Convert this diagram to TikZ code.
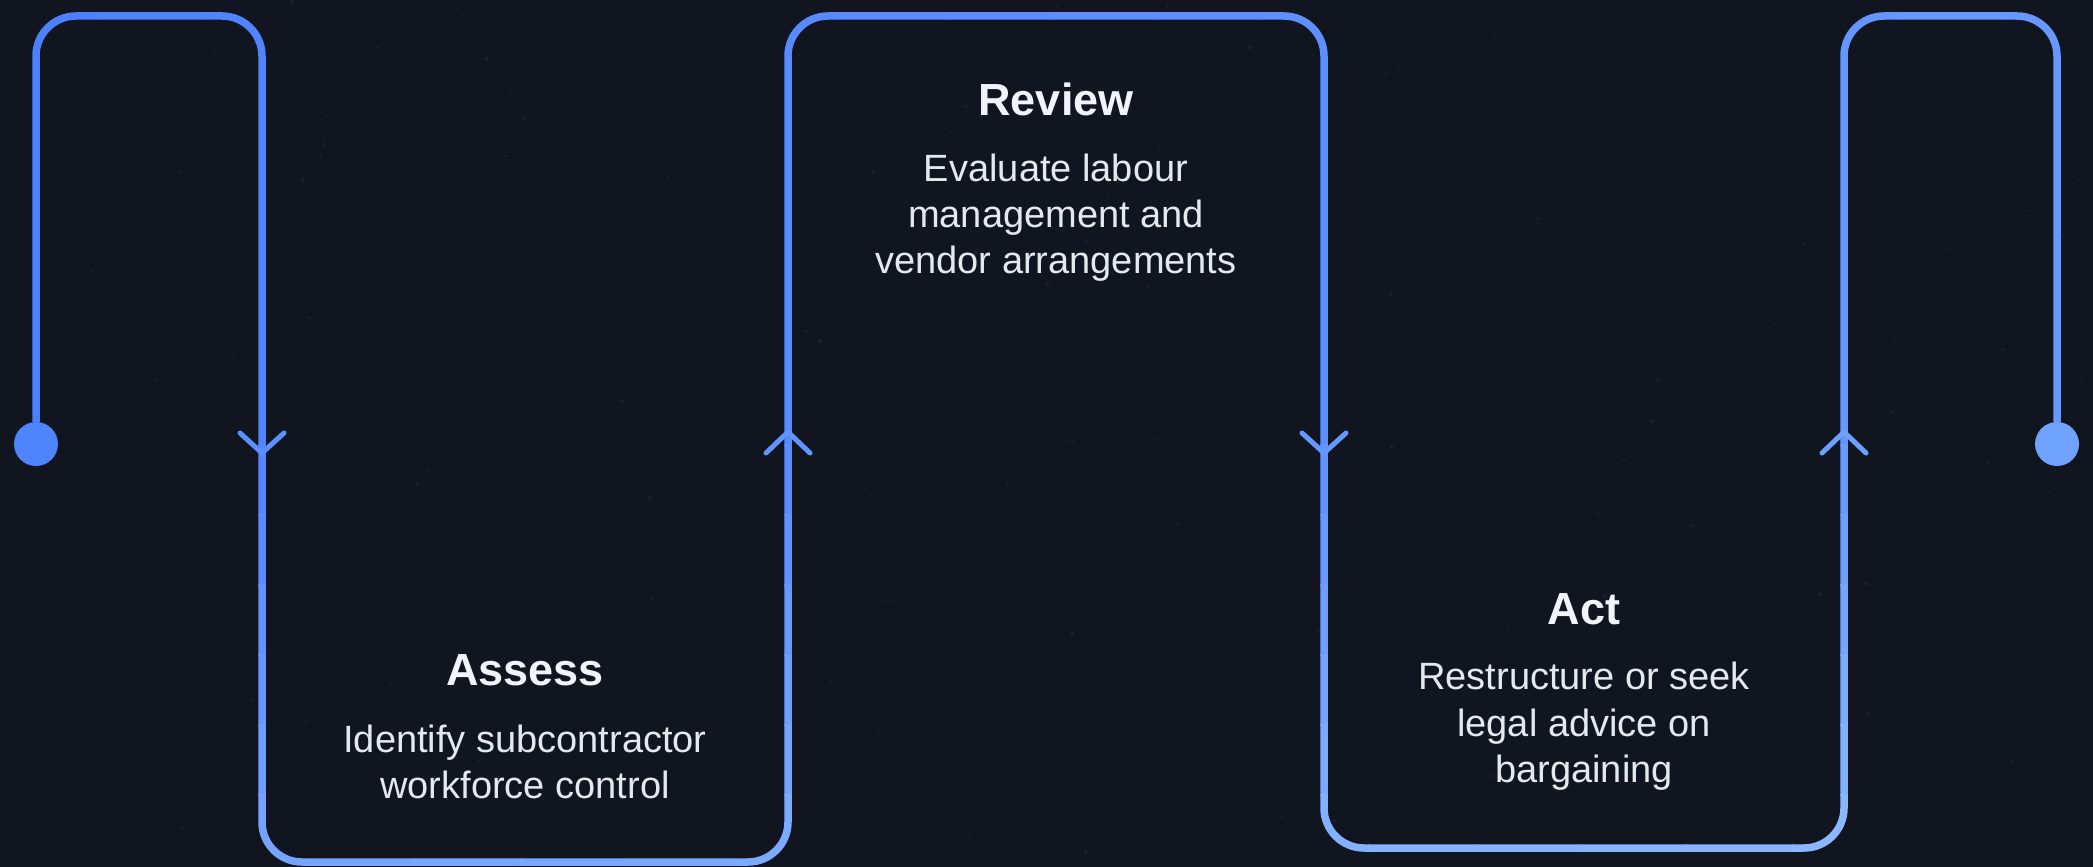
\documentclass[tikz,border=0pt]{standalone}
\usepackage{fontspec}
\setmainfont{Liberation Sans}
\definecolor{bgC}{HTML}{10151F}
\definecolor{titleC}{HTML}{F1F4FA}
\definecolor{bodyC}{HTML}{E4E8EF}
\definecolor{starC}{HTML}{1A2030}
\definecolor{dotLC}{HTML}{4F84FF}
\definecolor{dotRC}{HTML}{6FA3FF}
\definecolor{chevA}{HTML}{5A90FF}
\definecolor{chevB}{HTML}{6095FF}
\definecolor{chevC}{HTML}{6699FF}
\definecolor{chevD}{HTML}{6CA0FF}
\tikzset{
  flow/.style={line width=7.5pt, rounded corners=40pt, line join=round},
  chev/.style={line width=5pt, line cap=round, line join=round},
  endpt/.style={circle, minimum size=44pt, inner sep=0pt, draw=none},
  ttl/.style={font=\bfseries\fontsize{45}{54}\selectfont, text=titleC, anchor=base, inner sep=0pt},
  bdy/.style={font=\fontsize{38}{46}\selectfont, text=bodyC, anchor=base, inner sep=0pt}
}
\begin{document}
\begin{tikzpicture}[x=1pt,y=-1pt]
\useasboundingbox (0,0) rectangle (2093,867);
\fill[bgC] (0,0) rectangle (2093,867);
% faint stars
\pgfmathsetseed{42}
\foreach \s in {1,...,160}{
  \pgfmathsetmacro{\sx}{rnd*2093}
  \pgfmathsetmacro{\sy}{rnd*867}
  \pgfmathsetmacro{\sr}{0.8+rnd*1.3}
  \fill[starC] (\sx,\sy) circle[radius=\sr pt];
}
% end dots
\node[endpt, fill=dotLC] (dotL) at (36,444) {};
\node[endpt, fill=dotRC] (dotR) at (2057,444) {};
% path corners
\coordinate (k1) at (36,16);
\coordinate (k2) at (262,16);
\coordinate (k3) at (262,862);
\coordinate (k4) at (788,862);
\coordinate (k5) at (788,16);
\coordinate (k6) at (1324,16);
\coordinate (k7) at (1324,848);
\coordinate (k8) at (1844,848);
\coordinate (k9) at (1844,16);
\coordinate (k10) at (2057,16);
\def\snake{(dotL.north) -- (k1) -- (k2) -- (k3) -- (k4) -- (k5) -- (k6) -- (k7) -- (k8) -- (k9) -- (k10) -- (dotR.north)}
% gradient stroke, drawn cell by cell
\foreach \i in {0,...,19}{
  \foreach \j in {0,...,6}{
    \pgfmathsetmacro{\xl}{-10+\i*106}
    \pgfmathsetmacro{\xr}{\xl+107}
    \pgfmathsetmacro{\yt}{ifthenelse(\j==0,-10,444+(\j-1)*70)}
    \pgfmathsetmacro{\yb}{ifthenelse(\j==0,445,445+\j*70)}
    \pgfmathsetmacro{\f}{ifthenelse(\j==0,0,(\j-0.5)*70/420)}
    \pgfmathtruncatemacro{\rr}{77+0.0135*(\xl+53)+40*\f}
    \pgfmathtruncatemacro{\gg}{128+0.012*(\xl+53)+36*\f}
    \definecolor{cc}{RGB}{\rr,\gg,255}
    \begin{scope}
      \clip (\xl,\yt) rectangle (\xr,\yb);
      \draw[flow, draw=cc] \snake;
    \end{scope}
  }
}
% chevrons
\coordinate (a1) at (262,453);
\coordinate (a2) at (788,432);
\coordinate (a3) at (1324,453);
\coordinate (a4) at (1844,432);
\draw[chev, draw=chevA] ([shift={(-22,-20)}]a1) -- (a1) -- ([shift={(22,-20)}]a1);
\draw[chev, draw=chevB] ([shift={(-22,21)}]a2) -- (a2) -- ([shift={(22,21)}]a2);
\draw[chev, draw=chevC] ([shift={(-22,-20)}]a3) -- (a3) -- ([shift={(22,-20)}]a3);
\draw[chev, draw=chevD] ([shift={(-22,21)}]a4) -- (a4) -- ([shift={(22,21)}]a4);
% texts
\node[ttl] (assessT) at (525,685) {Assess};
\node[bdy] (assessL1) at (525,752) {Identify subcontractor};
\node[bdy] (assessL2) at (525,798) {workforce control};
\node[ttl] (reviewT) at (1056,115) {Review};
\node[bdy] (reviewL1) at (1056,181) {Evaluate labour};
\node[bdy] (reviewL2) at (1056,227) {management and};
\node[bdy] (reviewL3) at (1056,273) {vendor arrangements};
\node[ttl] (actT) at (1584,624) {Act};
\node[bdy] (actL1) at (1584,689) {Restructure or seek};
\node[bdy] (actL2) at (1584,736) {legal advice on};
\node[bdy] (actL3) at (1584,782) {bargaining};
\end{tikzpicture}
\end{document}
